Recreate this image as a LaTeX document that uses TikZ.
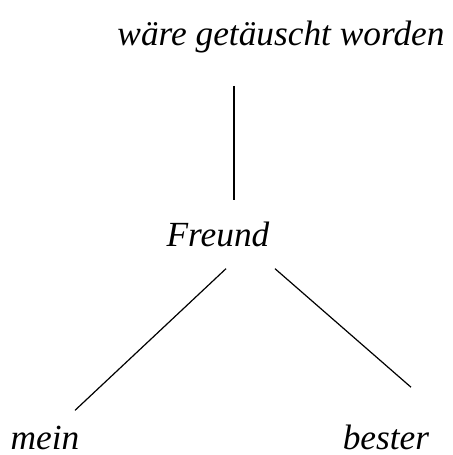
\documentclass[tikz,border=0pt]{standalone}
\usepackage{fontspec}
\setmainfont{Liberation Serif}
\usetikzlibrary{calc}

\begin{document}
\begin{tikzpicture}[x=0.75pt,y=-0.75pt,
    word/.style={font=\fontsize{26.5}{32}\selectfont\itshape, inner sep=0pt, anchor=base},
    branch/.style={line width=0.9pt}]
  \useasboundingbox (0,0) rectangle (453,455);

  % words of the tree
  \node[word] (head) at (281,45) {wäre getäuscht worden};
  \node[word] (freund) at (218,246) {Freund};
  \node[word] (mein) at (45,449) {mein};
  \node[word] (bester) at (386,449) {bester};

  % branches
  \draw[branch] ($(head.south)+(-47,33)$) -- ($(freund.north)+(16,-21)$);
  \draw[branch] ($(freund.south)+(8,22)$) -- ($(mein.north)+(30,-15)$);
  \draw[branch] ($(freund.south)+(57,22)$) -- ($(bester.north)+(25,-37)$);
\end{tikzpicture}
\end{document}
